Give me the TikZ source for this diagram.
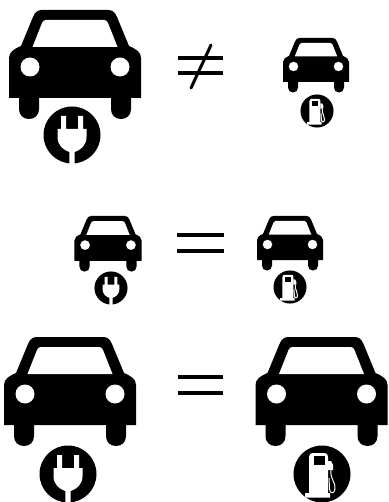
\documentclass[tikz,border=0pt]{standalone}
\tikzset{
  blackpart/.style={fill=black},
  whitepart/.style={fill=white},
  signbar/.style={line width=4pt},
  pics/car/.style={code={
    % body, roof and wheels
    \fill[blackpart] (-66,88) -- (-66,48) .. controls (-66,42) and (-61,39) .. (-54,36)
      -- (-42,7) .. controls (-40,2) and (-37,0) .. (-33,0) -- (33,0)
      .. controls (37,0) and (40,2) .. (42,7) -- (54,36)
      .. controls (61,39) and (66,42) .. (66,48) -- (66,88) -- (56,88) -- (56,99)
      .. controls (56,105) and (52,109) .. (46,109) .. controls (40,109) and (36,105) .. (36,99)
      -- (36,88) -- (-36,88) -- (-36,99)
      .. controls (-36,105) and (-40,109) .. (-46,109) .. controls (-52,109) and (-56,105) .. (-56,99)
      -- (-56,88) -- cycle;
    % windscreen and headlights
    \fill[whitepart] (-42.5,37) -- (-33,13) .. controls (-32,11) and (-31,10) .. (-29,10)
      -- (29,10) .. controls (31,10) and (32,11) .. (33,13) -- (42.5,37) -- cycle;
    \fill[whitepart] (-45,57) circle (9.5);
    \fill[whitepart] (45,57) circle (9.5);
  }},
  pics/plug/.style={code={
    \fill[blackpart] (0,0) circle (28.5);
    \fill[whitepart] (-11,-19) -- (-6,-19) -- (-6,-6) -- (6,-6) -- (6,-19) -- (11,-19) -- (11,-6)
      -- (14.5,-6) -- (14.5,2) .. controls (14.5,10) and (9,15) .. (2.7,17) -- (2.7,29) -- (-2.7,29) -- (-2.7,17)
      .. controls (-9,15) and (-14.5,10) .. (-14.5,2) -- (-14.5,-6) -- (-11,-6) -- cycle;
  }},
  pics/pump/.style={code={
    \fill[blackpart] (0,0) circle (28.5);
    % pump with its base
    \fill[whitepart] (-13,-17) .. controls (-13,-20) and (-11,-21) .. (-9,-21) -- (2,-21)
      .. controls (5,-21) and (6,-20) .. (6,-17) -- (6,19) -- (8,19) -- (8,23.5) -- (-17,23.5)
      -- (-17,19) -- (-13,19) -- cycle;
    \fill[blackpart] (-8.5,-18) rectangle (2.5,-9);
    % hose and nozzle
    \fill[whitepart] (6,-13) -- (9,-13) -- (11,-9) -- (11,-4) -- (6,-4) -- cycle;
    \draw[white, line width=1pt] (9,-4) .. controls (8,6) and (14,8) .. (13,15)
      .. controls (12.5,20) and (8,20) .. (7.5,15) -- (7,4);
  }},
}
\begin{document}
\begin{tikzpicture}[x=1pt, y=-1pt]
  \useasboundingbox (0,0) rectangle (388,502);
  % Top row
  \pic[scale=1] at (75,10) {car};
  \pic[scale=1] at (72,135) {plug};
  \draw[signbar] (178,58) -- (223,58);
  \draw[signbar] (178,73) -- (223,73);
  \draw[line width=3pt, line cap=round] (211,45) -- (191,88);
  \pic[scale=0.5] at (316,38) {car};
  \pic[scale=0.58] at (317,111) {pump};
  % Middle row
  \pic[scale=0.51] at (108,216) {car};
  \pic[scale=0.58] at (111,288) {plug};
  \draw[signbar] (177,235) -- (224,235);
  \draw[signbar] (177,251) -- (224,251);
  \pic[scale=0.5] at (290,216) {car};
  \pic[scale=0.58] at (290,287) {pump};
  % Bottom row
  \pic[scale=1] at (70,337) {car};
  \pic[scale=1] at (68,474) {plug};
  \draw[signbar] (178,377) -- (223,377);
  \draw[signbar] (178,393) -- (223,393);
  \pic[scale=1] at (321.5,337) {car};
  \pic[scale=1] at (322,474) {pump};
\end{tikzpicture}
\end{document}
